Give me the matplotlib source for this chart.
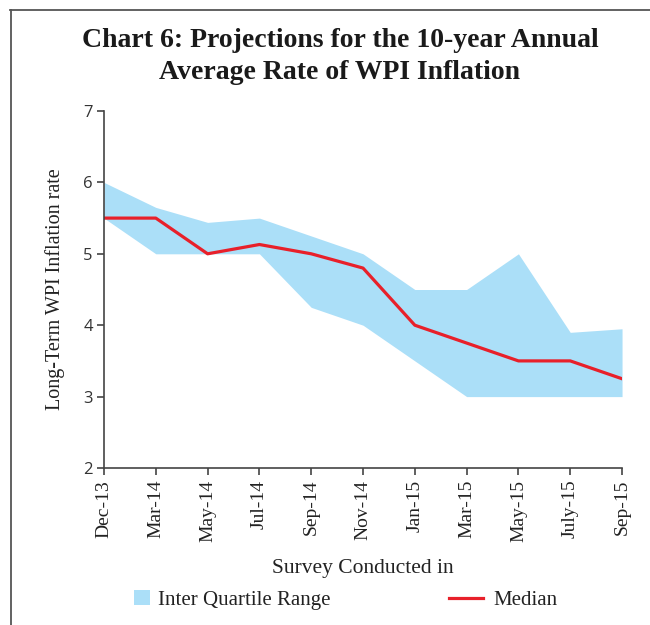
import matplotlib.pyplot as plt
from matplotlib.lines import Line2D
from matplotlib.patches import Patch

surveys = ["Dec-13", "Mar-14", "May-14", "Jul-14", "Sep-14", "Nov-14",
           "Jan-15", "Mar-15", "May-15", "July-15", "Sep-15"]
iqr_upper = [6.0, 5.65, 5.44, 5.5, 5.25, 5.0, 4.5, 4.5, 5.0, 3.9, 3.95]
iqr_lower = [5.5, 5.0, 5.0, 5.0, 4.25, 4.0, 3.5, 3.0, 3.0, 3.0, 3.0]
median = [5.5, 5.5, 5.0, 5.13, 5.0, 4.8, 4.0, 3.75, 3.5, 3.5, 3.25]

SERIF = "Liberation Serif"
BLUE = "#abdff8"
RED = "#e8202a"

fig = plt.figure(figsize=(6.5, 6.25), dpi=100)
ax = fig.add_axes([0.16, 0.2512, 0.797, 0.5712])

x = range(len(surveys))
ax.fill_between(x, iqr_lower, iqr_upper, color=BLUE, linewidth=0)
ax.plot(x, median, color=RED, linewidth=2.3)

ax.set_xlim(0, len(surveys) - 1)
ax.set_ylim(2, 7)
ax.set_xticks(list(x))
ax.set_xticklabels(surveys, rotation=90, fontfamily=SERIF, fontsize=14, color="#222222")
ax.set_yticks([2, 3, 4, 5, 6, 7])
for lab in ax.get_yticklabels():
    lab.set_fontfamily("Open Sans")
    lab.set_fontsize(12)
    lab.set_color("#333333")

for side in ("top", "right"):
    ax.spines[side].set_visible(False)
for side in ("left", "bottom"):
    ax.spines[side].set_color("#444444")
    ax.spines[side].set_linewidth(1.2)
ax.tick_params(axis="both", direction="out", length=5, width=1.2, color="#444444")
ax.tick_params(axis="y", pad=3)

ax.set_xlabel("Survey Conducted in", fontfamily=SERIF, fontsize=15.5, color="#222222", labelpad=12)
ax.set_ylabel("Long-Term WPI Inflation rate", fontfamily=SERIF, fontsize=14.5, color="#222222", labelpad=13)

fig.text(0.523, 0.9096, "Chart 6: Projections for the 10-year Annual\nAverage Rate of WPI Inflation",
         ha="center", va="center", fontfamily=SERIF, fontweight="bold", fontsize=20,
         linespacing=1.38, color="#1a1a1a")

# two separate legend entries, spaced apart along the bottom
leg_font = {"family": SERIF, "size": 15}
iqr_leg = fig.legend([Patch(facecolor=BLUE, edgecolor="none")], ["Inter Quartile Range"],
                     loc="center left", bbox_to_anchor=(0.19, 0.04), frameon=False,
                     prop=leg_font, borderpad=0, handlelength=0.77, handleheight=0.72,
                     handletextpad=0.38)
med_leg = fig.legend([Line2D([0], [0], color=RED, linewidth=2.3)], ["Median"],
                     loc="center left", bbox_to_anchor=(0.675, 0.04), frameon=False,
                     prop=leg_font, borderpad=0, handlelength=1.6, handletextpad=0.5)
for leg in (iqr_leg, med_leg):
    for t in leg.get_texts():
        t.set_color("#222222")

# page frame along top and left edges
fig.add_artist(Line2D([0.016, 1.0], [0.984, 0.984], color="#555555", linewidth=1.3))
fig.add_artist(Line2D([0.017, 0.017], [0.0, 0.984], color="#555555", linewidth=1.3))

fig.savefig("out.png", dpi=100)
